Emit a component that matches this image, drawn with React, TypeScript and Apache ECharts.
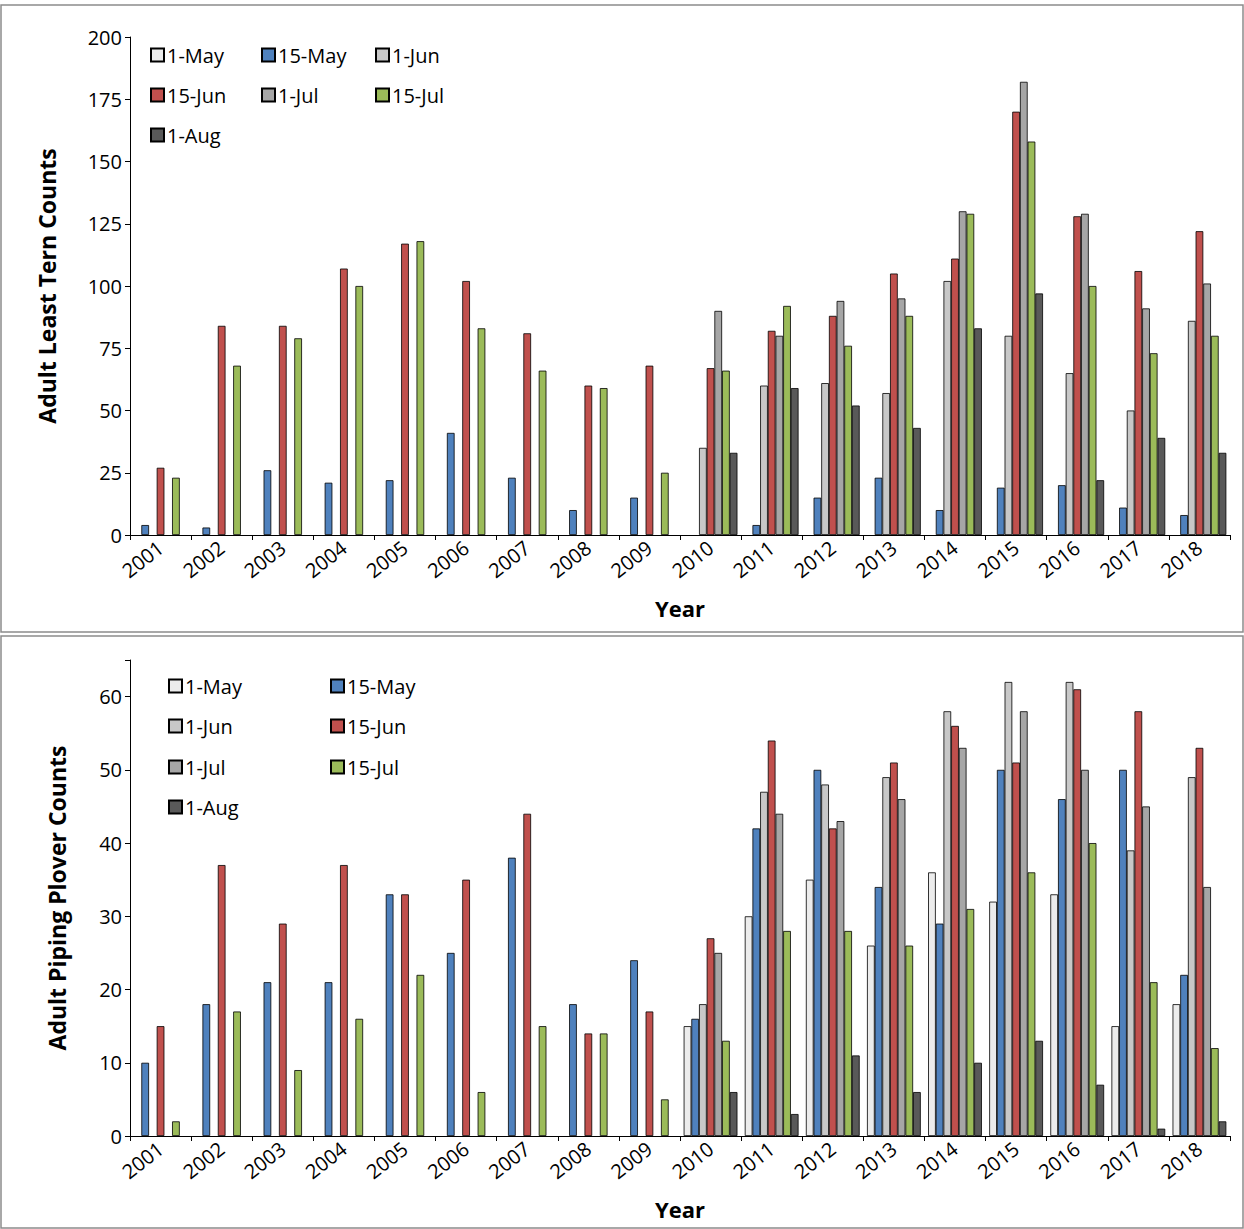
import { useEffect, useRef } from 'react';
import * as echarts from 'echarts';

const years = ['2001','2002','2003','2004','2005','2006','2007','2008','2009','2010','2011','2012','2013','2014','2015','2016','2017','2018'];
const seriesNames = ['1-May','15-May','1-Jun','15-Jun','1-Jul','15-Jul','1-Aug'];
const colors = ['#ececec','#4f81bd','#c8c8c8','#c0504d','#a6a6a6','#9bbb59','#595959'];

const _ = null;
// Adult Least Tern counts, one row per series
const tern: (number | null)[][] = [
  [_,_,_,_,_,_,_,_,_,_,_,_,_,_,_,_,_,_],
  [4,3,26,21,22,41,23,10,15,_,4,15,23,10,19,20,11,8],
  [_,_,_,_,_,_,_,_,_,35,60,61,57,102,80,65,50,86],
  [27,84,84,107,117,102,81,60,68,67,82,88,105,111,170,128,106,122],
  [_,_,_,_,_,_,_,_,_,90,80,94,95,130,182,129,91,101],
  [23,68,79,100,118,83,66,59,25,66,92,76,88,129,158,100,73,80],
  [_,_,_,_,_,_,_,_,_,33,59,52,43,83,97,22,39,33],
];
// Adult Piping Plover counts
const plover: (number | null)[][] = [
  [_,_,_,_,_,_,_,_,_,15,30,35,26,36,32,33,15,18],
  [10,18,21,21,33,25,38,18,24,16,42,50,34,29,50,46,50,22],
  [_,_,_,_,_,_,_,_,_,18,47,48,49,58,62,62,39,49],
  [15,37,29,37,33,35,44,14,17,27,54,42,51,56,51,61,58,53],
  [_,_,_,_,_,_,_,_,_,25,44,43,46,53,58,50,45,34],
  [2,17,9,16,22,6,15,14,5,13,28,28,26,31,36,40,21,12],
  [_,_,_,_,_,_,_,_,_,6,3,11,6,10,13,7,1,2],
];

const topLegendPos = [[145,40],[256,40],[370,40],[145,80],[256,80],[370,80],[145,120]];
const botLegendPos = [[163,671],[325,671],[163,711],[325,711],[163,752],[325,752],[163,792]];

const font = 'Open Sans';

export default function App() {
  const ref = useRef<HTMLDivElement>(null);
  useEffect(() => {
    if (!ref.current) return;
    const chart = echarts.init(ref.current, undefined, { renderer: 'svg' });
    const axisX = (gi: number) => ({
      type: 'category', data: years, gridIndex: gi,
      axisLine: { lineStyle: { color: '#000' } },
      axisTick: { show: true, lineStyle: { color: '#000' } },
      axisLabel: { rotate: 38, color: '#000', fontSize: 20, fontFamily: font, margin: 10 },
      name: 'Year', nameLocation: 'middle', nameGap: 62,
      nameTextStyle: { fontSize: 22, fontWeight: 'bold', color: '#000', fontFamily: font },
    });
    const mkLegend = (pos: number[][]) => seriesNames.map((n, i) => ({
      data: [n], left: pos[i][0], top: pos[i][1], itemWidth: 13, itemHeight: 13,
      icon: 'rect', itemGap: 4,
      textStyle: { fontSize: 20, color: '#000', fontFamily: font, padding: [0, 0, 0, -2] },
    }));
    const mkSeries = (data: (number | null)[][], gi: number) => data.map((d, i) => ({
      type: 'bar', name: seriesNames[i], data: d, xAxisIndex: gi, yAxisIndex: gi,
      barGap: '0%', barCategoryGap: '12%',
      itemStyle: { color: colors[i], borderColor: '#000', borderWidth: 0.8 },
    }));
    chart.setOption({
      animation: false,
      graphic: [
        { type: 'rect', shape: { x: 1, y: 5, width: 1242, height: 627 }, style: { fill: 'none', stroke: '#8c8c8c', lineWidth: 1.5 } },
        { type: 'rect', shape: { x: 1, y: 636, width: 1242, height: 592 }, style: { fill: 'none', stroke: '#8c8c8c', lineWidth: 1.5 } },
      ],
      grid: [
        { left: 130, right: 14, top: 37, bottom: 694 },
        { left: 130, right: 14, top: 660, bottom: 93 },
      ],
      xAxis: [axisX(0), axisX(1)],
      yAxis: [
        { type: 'value', gridIndex: 0, min: 0, max: 200, interval: 25,
          axisLine: { show: true, lineStyle: { color: '#000' } }, axisTick: { show: true },
          splitLine: { show: false },
          axisLabel: { color: '#000', fontSize: 20, fontFamily: font },
          name: 'Adult Least Tern Counts', nameLocation: 'middle', nameGap: 72,
          nameTextStyle: { fontSize: 23, fontWeight: 'bold', color: '#000', fontFamily: font } },
        { type: 'value', gridIndex: 1, min: 0, max: 65, interval: 10,
          axisLine: { show: true, lineStyle: { color: '#000' } }, axisTick: { show: true },
          splitLine: { show: false },
          axisLabel: { color: '#000', fontSize: 20, fontFamily: font,
            formatter: (v: number) => (v % 10 === 0 ? String(v) : '') },
          name: 'Adult Piping Plover Counts', nameLocation: 'middle', nameGap: 62,
          nameTextStyle: { fontSize: 23, fontWeight: 'bold', color: '#000', fontFamily: font } },
      ],
      legend: [...mkLegend(topLegendPos), ...mkLegend(botLegendPos)],
      series: [...mkSeries(tern, 0), ...mkSeries(plover, 1)],
    });
    return () => chart.dispose();
  }, []);
  return <div ref={ref} style={{ position: 'absolute', left: 0, top: 0, width: 1244, height: 1229, background: '#fff' }} />;
}
